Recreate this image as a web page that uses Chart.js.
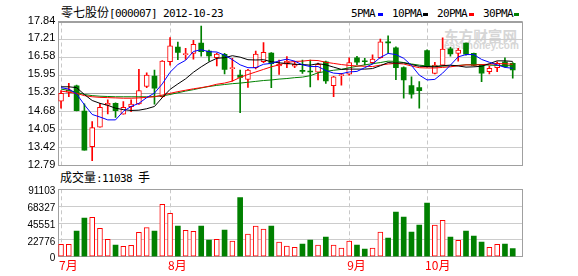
<!DOCTYPE html>
<html>
<head>
<meta charset="utf-8">
<script src="https://cdn.jsdelivr.net/npm/chart.js@4.4.0/dist/chart.umd.min.js"></script>
<style>
  body { margin: 0; background: #fff; width: 578px; height: 276px; overflow: hidden; position: relative; }
  canvas { position: absolute; left: 0; }
  .t { position: absolute; white-space: nowrap; color: #000; line-height: 14px; }
  .cj { font-family: "Noto Sans CJK SC"; font-size: 12px; }
  .as { font-family: "DejaVu Sans Mono"; font-size: 11px; letter-spacing: -0.62px; }
  .key { position: absolute; width: 5px; height: 3px; }
  .wm { position: absolute; color: #d6d6d6; font-weight: bold; white-space: nowrap; }
</style>
</head>
<body>
<div class="wm" style="left:444px;top:25px;font:bold 14.6px 'Noto Sans CJK SC';">东方财富网</div>
<div class="wm" style="left:444px;top:40px;font:bold 10px 'Liberation Sans';">eastmoney.com</div>

<div class="t" style="left:61px;top:5px;"><span class="cj">零七股份</span><span class="as">[000007] 2012-10-23</span></div>

<div class="t as" style="left:351px;top:7px;">5PMA</div>
<div class="key" style="left:378px;top:13px;background:#0000ff;"></div>
<div class="t as" style="left:392px;top:7px;">10PMA</div>
<div class="key" style="left:423px;top:13px;background:#000;"></div>
<div class="t as" style="left:437px;top:7px;">20PMA</div>
<div class="key" style="left:469px;top:13px;background:#ff0000;"></div>
<div class="t as" style="left:483px;top:7px;">30PMA</div>
<div class="key" style="left:514px;top:13px;background:#008000;"></div>

<div class="t" style="left:60px;top:170px;"><span class="cj">成交量</span><span class="as">:11038 </span><span class="cj">手</span></div>

<canvas id="price" width="578" height="176" style="top:0"></canvas>
<canvas id="vol" width="578" height="96" style="top:180px"></canvas>

<script>
// 日线数据 2012-07 ~ 2012-10-23
const opens  = [15.05,15.36,15.58,14.70,13.45,14.13,14.91,14.97,14.59,14.85,14.95,15.56,15.93,15.20,16.43,16.94,16.68,16.72,17.08,16.80,
                16.57,16.69,16.19,15.96,15.81,16.22,16.43,16.73,16.28,16.34,16.27,16.12,16.09,16.06,16.43,15.59,15.94,15.99,16.57,16.45,
                16.40,16.57,17.12,16.92,16.22,15.59,15.52,16.82,16.02,16.31,16.88,16.72,17.08,16.72,16.31,16.08,16.22,16.43,16.37];
const highs  = [15.42,15.67,15.61,14.95,14.33,14.97,15.09,14.99,15.03,15.09,16.16,16.04,16.14,16.47,17.28,17.12,16.90,17.18,17.68,16.84,
                16.73,16.72,16.55,16.14,16.16,16.80,17.10,16.75,16.49,16.61,16.44,16.49,16.49,16.38,16.45,15.92,16.02,16.57,16.62,16.55,
                16.67,17.22,17.34,16.95,16.25,15.90,15.73,16.85,16.41,17.27,16.93,16.90,17.08,16.73,16.33,16.28,16.43,16.57,16.40];
const lows   = [14.80,15.20,14.70,13.33,12.96,14.13,14.60,14.48,14.59,14.68,14.93,15.52,14.94,15.18,16.31,16.50,16.51,16.52,16.62,16.45,
                16.28,16.00,15.75,14.64,15.53,16.18,16.40,15.52,15.98,16.22,16.22,16.02,15.55,15.79,15.67,15.20,15.61,15.96,16.33,16.32,
                16.35,16.55,16.72,15.80,15.15,15.15,14.80,16.24,16.00,16.28,16.62,16.45,16.66,16.28,15.73,16.00,16.08,16.24,15.85];
const closes = [15.32,15.44,14.71,13.33,14.12,14.83,14.97,14.71,14.83,14.94,15.42,15.96,15.50,16.45,16.99,16.76,16.70,17.04,16.78,16.63,
                16.70,16.16,16.21,15.88,16.14,16.70,16.76,16.36,16.35,16.45,16.34,16.09,16.07,16.34,15.76,15.90,15.97,16.40,16.41,16.43,
                16.52,17.13,17.09,16.22,15.79,15.29,15.41,16.26,16.31,16.87,16.70,16.84,16.69,16.30,16.03,16.20,16.37,16.26,16.14];
const volumes = [16760,16760,34740,52310,53260,38390,23520,15810,14060,15410,32980,39200,34740,70830,58660,41500,35680,34330,41500,22570,
                 23520,36090,21220,79750,30680,41500,37440,41500,19870,14460,12710,17170,22570,15810,26630,15810,11760,21220,15810,10410,
                 11760,33390,25280,60420,53660,33390,42850,72590,42850,49200,26630,22170,34740,27980,19870,12710,16760,17170,11038];

// 均线
const ma5  = [15.52,15.47,15.30,14.92,14.58,14.49,14.39,14.39,14.69,14.86,14.97,15.17,15.33,15.65,16.06,16.33,16.48,16.79,16.85,16.78,
              16.77,16.66,16.50,16.32,16.22,16.22,16.34,16.37,16.46,16.52,16.45,16.32,16.26,16.26,16.12,16.03,16.01,16.07,16.09,16.22,
              16.35,16.58,16.72,16.68,16.55,16.30,15.96,15.79,15.81,16.03,16.31,16.60,16.68,16.68,16.51,16.41,16.32,16.23,16.20];
const ma10 = [15.55,15.55,15.52,15.28,15.07,14.97,14.90,14.80,14.75,14.72,14.73,14.78,14.86,15.17,15.46,15.65,15.83,16.06,16.25,16.42,
              16.55,16.57,16.64,16.59,16.50,16.49,16.50,16.43,16.39,16.37,16.34,16.33,16.31,16.36,16.32,16.24,16.16,16.17,16.17,16.17,
              16.19,16.29,16.40,16.38,16.39,16.33,16.27,16.26,16.25,16.29,16.31,16.28,16.24,16.25,16.27,16.36,16.46,16.46,16.44];
const ma20 = [15.40,15.36,15.32,15.24,15.20,15.18,15.17,15.16,15.15,15.15,15.16,15.18,15.20,15.26,15.32,15.38,15.43,15.48,15.52,15.57,
              15.64,15.68,15.75,15.88,15.98,16.07,16.16,16.25,16.32,16.40,16.44,16.45,16.48,16.47,16.41,16.37,16.33,16.30,16.28,16.27,
              16.26,16.31,16.35,16.37,16.35,16.28,16.22,16.21,16.21,16.23,16.25,16.29,16.32,16.31,16.33,16.34,16.36,16.36,16.34];
const ma30 = [15.47,15.42,15.36,15.28,15.24,15.22,15.21,15.20,15.20,15.20,15.20,15.20,15.21,15.23,15.28,15.34,15.40,15.45,15.51,15.56,
              15.60,15.63,15.66,15.68,15.71,15.74,15.77,15.79,15.82,15.84,15.87,15.89,15.94,16.04,16.09,16.13,16.16,16.22,16.27,16.32,
              16.36,16.40,16.45,16.44,16.40,16.35,16.31,16.28,16.27,16.28,16.28,16.30,16.32,16.33,16.33,16.31,16.30,16.29,16.29];

// 坐标刻度
const priceTicks = [12.79, 13.42, 14.05, 14.68, 15.32, 15.95, 16.58, 17.21, 17.84];
const volumeTicks = [0, 22776, 45551, 68327, 91103];
const monthTicks = [0, 14, 37, 47];
const monthLabels = ['7月', '8月', '9月', '10月'];

const RED = '#ff0000', GREEN = '#008000';
const up = closes.map((c, i) => c >= opens[i]);
const pts = arr => arr.map((v, i) => ({ x: i, y: v }));

// 图框
const frame = {
  id: 'frame',
  beforeDatasetsDraw(chart) {
    const { ctx, chartArea: a } = chart;
    const l = Math.round(a.left) + 0.5, t = Math.round(a.top) + 0.5;
    const r = Math.round(a.right) - 0.5, b = Math.round(a.bottom) - 0.5;
    ctx.save();
    ctx.strokeStyle = '#a0a0a0';
    ctx.lineWidth = 1;
    ctx.strokeRect(l, t, r - l, b - t);
    ctx.restore();
  }
};

const xBase = {
  type: 'linear', min: -0.35, max: 59.28, offset: false,
  afterBuildTicks: s => { s.ticks = monthTicks.map(v => ({ value: v })); },
  grid: { color: '#c8c8c8', drawTicks: false, offset: false },
  border: { display: false, dash: [4, 3] }
};

const yFont = size => ({ family: "'Liberation Sans'", size: size });

function maLine(data, color, order) {
  return { type: 'line', data: pts(data), borderColor: color, borderWidth: 1, pointRadius: 0, tension: 0, order: order };
}

new Chart(document.getElementById('price'), {
  type: 'bar',
  data: {
    datasets: [
      maLine(ma5, '#0000ff', -4),
      maLine(ma10, '#000000', -3),
      maLine(ma20, RED, -2),
      maLine(ma30, GREEN, -1),
      {
        data: opens.map((o, i) => ({ x: i, y: [o, closes[i]] })),
        barThickness: 5, grouped: false, minBarLength: 1, order: 1,
        backgroundColor: up.map(u => u ? '#ffffff' : GREEN),
        borderColor: up.map(u => u ? RED : GREEN),
        borderWidth: up.map(u => u ? 1 : 0),
        borderSkipped: false
      },
      {
        data: lows.map((l, i) => ({ x: i, y: [l, highs[i]] })),
        barThickness: 1, grouped: false, order: 2,
        backgroundColor: up.map(u => u ? RED : GREEN),
        borderWidth: 0
      }
    ]
  },
  options: {
    responsive: false, animation: false, events: [],
    layout: { padding: { left: 0, right: 55.3, top: 21.5, bottom: 10.5 } },
    plugins: { legend: { display: false }, tooltip: { enabled: false } },
    scales: {
      x: { ...xBase, ticks: { display: false }, afterFit: s => { s.height = 0; } },
      y: {
        min: 12.79, max: 17.84,
        afterFit: s => { s.width = 58.3; },
        afterBuildTicks: s => { s.ticks = priceTicks.map(v => ({ value: v })); },
        grid: {
          drawTicks: false,
          color: c => (c.tick && [12.79, 15.32, 17.84].includes(c.tick.value)) ? '#a0a0a0' : '#cccccc'
        },
        border: { display: false },
        ticks: { padding: 3, color: '#000', font: yFont(11), labelOffset: -1, callback: v => v.toFixed(2) }
      }
    }
  },
  plugins: [frame]
});

new Chart(document.getElementById('vol'), {
  type: 'bar',
  data: {
    datasets: [{
      data: pts(volumes),
      barThickness: 5, grouped: false,
      backgroundColor: up.map(u => u ? '#ffffff' : GREEN),
      borderColor: up.map(u => u ? RED : GREEN),
      borderWidth: up.map(u => u ? 1 : 0),
      borderSkipped: false
    }]
  },
  options: {
    responsive: false, animation: false, events: [],
    layout: { padding: { left: 0, right: 55.3, top: 9.3, bottom: 0 } },
    plugins: { legend: { display: false }, tooltip: { enabled: false } },
    scales: {
      x: {
        ...xBase,
        afterFit: s => { s.height = 19.3; },
        ticks: {
          color: RED, font: { family: "'Noto Sans CJK SC'", size: 12 }, padding: 2,
          align: 'start', labelOffset: -2, autoSkip: false, maxRotation: 0,
          callback: v => monthLabels[monthTicks.indexOf(v)]
        }
      },
      y: {
        min: 0, max: 91103,
        afterFit: s => { s.width = 58.3; },
        afterBuildTicks: s => { s.ticks = volumeTicks.map(v => ({ value: v })); },
        grid: { drawTicks: false, color: c => (c.tick && (c.tick.value === 0 || c.tick.value === 91103)) ? '#a0a0a0' : '#cccccc' },
        border: { display: false },
        ticks: { padding: 3, color: '#000', font: yFont(10), labelOffset: 2, callback: v => String(v) }
      }
    }
  },
  plugins: [frame]
});
</script>
</body>
</html>
